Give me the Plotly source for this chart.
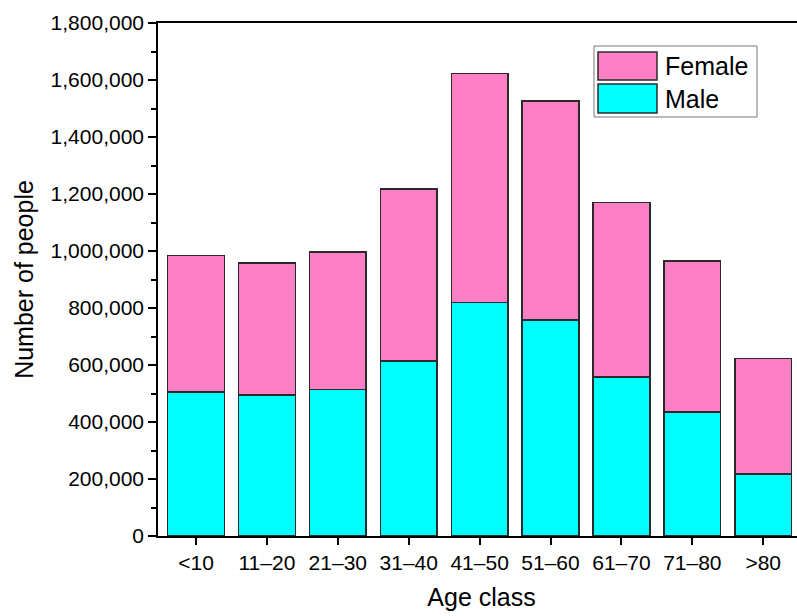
import plotly.graph_objects as go

categories = ["<10", "11\u201320", "21\u201330", "31\u201340", "41\u201350", "51\u201360", "61\u201370", "71\u201380", ">80"]
male = [505000, 495000, 514000, 614000, 820000, 758000, 558000, 435000, 217000]
female_total = [985000, 958000, 997000, 1217000, 1622000, 1526000, 1170000, 965000, 622000]
female = [t - m for t, m in zip(female_total, male)]

PINK = "#FF7FC4"
CYAN = "#00FFFF"
EDGE = "#2a2a2a"
FONT = "Liberation Sans, Arial, sans-serif"

# figure is a bit wider than the window so the plot frame runs off the right edge, as in the reference
W, H = 805, 616
L, R, T, B = 158, 0, 23, 80
pw, ph = W - L - R, H - T - B

def px(x):
    return (x - L) / pw

def py(y):
    return (H - B - y) / ph

fig = go.Figure()
fig.add_trace(go.Bar(x=categories, y=male, name="Male", marker=dict(color=CYAN, line=dict(color=EDGE, width=1.5))))
fig.add_trace(go.Bar(x=categories, y=female, name="Female", marker=dict(color=PINK, line=dict(color=EDGE, width=1.5))))

shapes = [
    dict(type="rect", xref="paper", yref="paper", x0=px(594), x1=px(757), y0=py(117), y1=py(46),
         line=dict(color="#777777", width=1), fillcolor="white", layer="above"),
    dict(type="rect", xref="paper", yref="paper", x0=px(598), x1=px(657), y0=py(80), y1=py(52),
         line=dict(color=EDGE, width=1.5), fillcolor=PINK, layer="above"),
    dict(type="rect", xref="paper", yref="paper", x0=px(598), x1=px(657), y0=py(113), y1=py(84),
         line=dict(color=EDGE, width=1.5), fillcolor=CYAN, layer="above"),
]
annotations = [
    dict(text="Female", xref="paper", yref="paper", x=px(663), y=py(66), xanchor="left", yanchor="middle",
         showarrow=False, font=dict(family=FONT, size=25, color="black")),
    dict(text="Male", xref="paper", yref="paper", x=px(663), y=py(99), xanchor="left", yanchor="middle",
         showarrow=False, font=dict(family=FONT, size=25, color="black")),
]

fig.update_layout(
    width=W, height=H,
    margin=dict(l=L, r=R, t=T, b=B),
    barmode="stack", bargap=0.2,
    plot_bgcolor="white", paper_bgcolor="white",
    showlegend=False,
    font=dict(family=FONT, color="black"),
    shapes=shapes, annotations=annotations,
    xaxis=dict(
        range=[-0.536, 8.589],
        showline=True, linecolor="black", linewidth=1.5, mirror=True,
        ticks="outside", ticklen=7, tickwidth=1.5, tickcolor="black",
        tickfont=dict(size=21, family=FONT),
        title=dict(text="Age class", font=dict(size=25, family=FONT), standoff=16),
        showgrid=False,
    ),
    yaxis=dict(
        range=[0, 1800000],
        tickvals=[0, 200000, 400000, 600000, 800000, 1000000, 1200000, 1400000, 1600000, 1800000],
        tickformat=",d",
        showline=True, linecolor="black", linewidth=1.5,
        ticks="outside", ticklen=8, tickwidth=1.5, tickcolor="black",
        minor=dict(dtick=100000, ticks="outside", ticklen=5, tickwidth=1.5, tickcolor="black", showgrid=False),
        tickfont=dict(size=21, family=FONT),
        title=dict(text="Number of people", font=dict(size=25, family=FONT), standoff=10),
        showgrid=False, zeroline=False,
    ),
)

fig.write_html(
    "out.html",
    config={"displayModeBar": False},
    post_script="document.body.style.margin='0';document.body.style.overflow='hidden';",
)
